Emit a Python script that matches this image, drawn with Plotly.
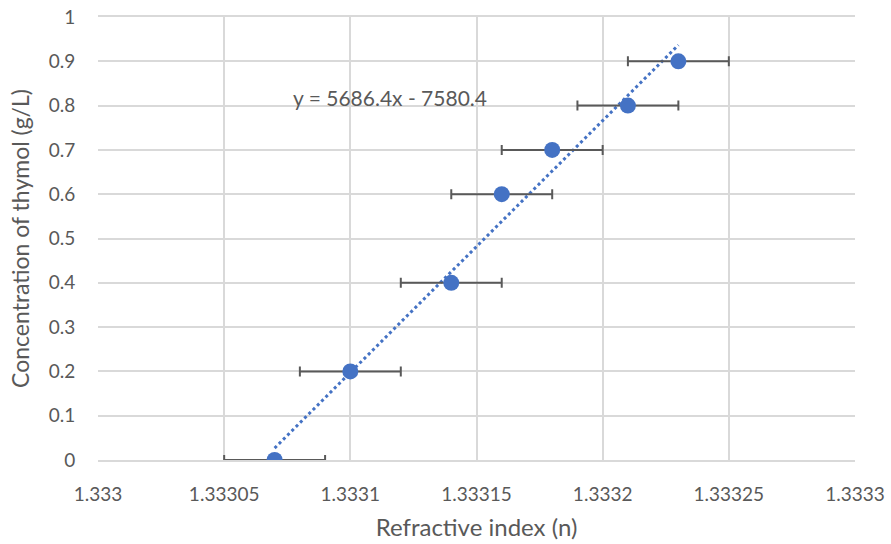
import numpy as np
import plotly.graph_objects as go

# ============================================================
# Data
# ============================================================
refractive_index = [1.33307, 1.3331, 1.33314, 1.33316, 1.33318, 1.33321, 1.33323]
concentration = [0.0, 0.2, 0.4, 0.6, 0.7, 0.8, 0.9]
x_error = [0.00002] * 7

x_tickvals = [1.333, 1.33305, 1.3331, 1.33315, 1.3332, 1.33325, 1.3333]
x_ticktext = ["1.333", "1.33305", "1.3331", "1.33315", "1.3332", "1.33325", "1.3333"]
y_tickvals = [0, 0.1, 0.2, 0.3, 0.4, 0.5, 0.6, 0.7, 0.8, 0.9, 1]
y_ticktext = ["0", "0.1", "0.2", "0.3", "0.4", "0.5", "0.6", "0.7", "0.8", "0.9", "1"]

equation_text = "y = 5686.4x - 7580.4"

# ============================================================
# Linear trendline (least squares, as the spreadsheet does)
# ============================================================
x0 = 1.333
xs = np.array(refractive_index) - x0
slope, intercept = np.polyfit(xs, np.array(concentration), 1)
trend_x = np.array([xs.min(), xs.max()])
trend_y = slope * trend_x + intercept

FONT = "Lato, Open Sans, sans-serif"
GREY = "#595959"
GRID = "#D9D9D9"
BLUE = "#4472C4"

fig = go.Figure()

fig.add_trace(go.Scatter(
    x=trend_x + x0, y=trend_y, mode="lines",
    line=dict(color=BLUE, width=3, dash="dot"),
    hoverinfo="skip", showlegend=False,
))

fig.add_trace(go.Scatter(
    x=refractive_index, y=concentration, mode="markers",
    marker=dict(color=BLUE, size=16),
    error_x=dict(type="data", array=x_error, color=GREY, thickness=2, width=5),
    showlegend=False,
))

fig.add_annotation(
    x=1.3331157, y=0.819, xref="x", yref="y", text=equation_text,
    showarrow=False, font=dict(family=FONT, size=21, color=GREY),
)

fig.update_xaxes(
    range=[1.333, 1.3333], tickvals=x_tickvals, ticktext=x_ticktext,
    showgrid=True, gridcolor=GRID, gridwidth=1.5,
    zeroline=False, showline=True, mirror=True, linecolor=GRID, linewidth=1.5,
    ticks="outside", ticklen=16, tickcolor="rgba(0,0,0,0)",
    tickfont=dict(family=FONT, size=19, color=GREY),
    title=dict(text="Refractive index (n)", font=dict(family=FONT, size=24, color=GREY), standoff=16),
    automargin=False,
)
fig.update_yaxes(
    range=[0, 1], tickvals=y_tickvals, ticktext=y_ticktext,
    showgrid=True, gridcolor=GRID, gridwidth=1.5,
    zeroline=False, showline=False,
    ticks="outside", ticklen=18, tickcolor="rgba(0,0,0,0)",
    tickfont=dict(family=FONT, size=19, color=GREY),
    title=dict(text="Concentration of thymol (g/L)", font=dict(family=FONT, size=23, color=GREY), standoff=12),
    automargin=False,
)

fig.update_layout(
    width=891, height=544,
    margin=dict(l=98, r=36, t=17, b=84),
    plot_bgcolor="white", paper_bgcolor="white",
)

# drop the default 8px page margin so the figure sits at the window corner
fig.write_html("out.html", config={"displayModeBar": False},
               post_script="document.body.style.margin='0';")
